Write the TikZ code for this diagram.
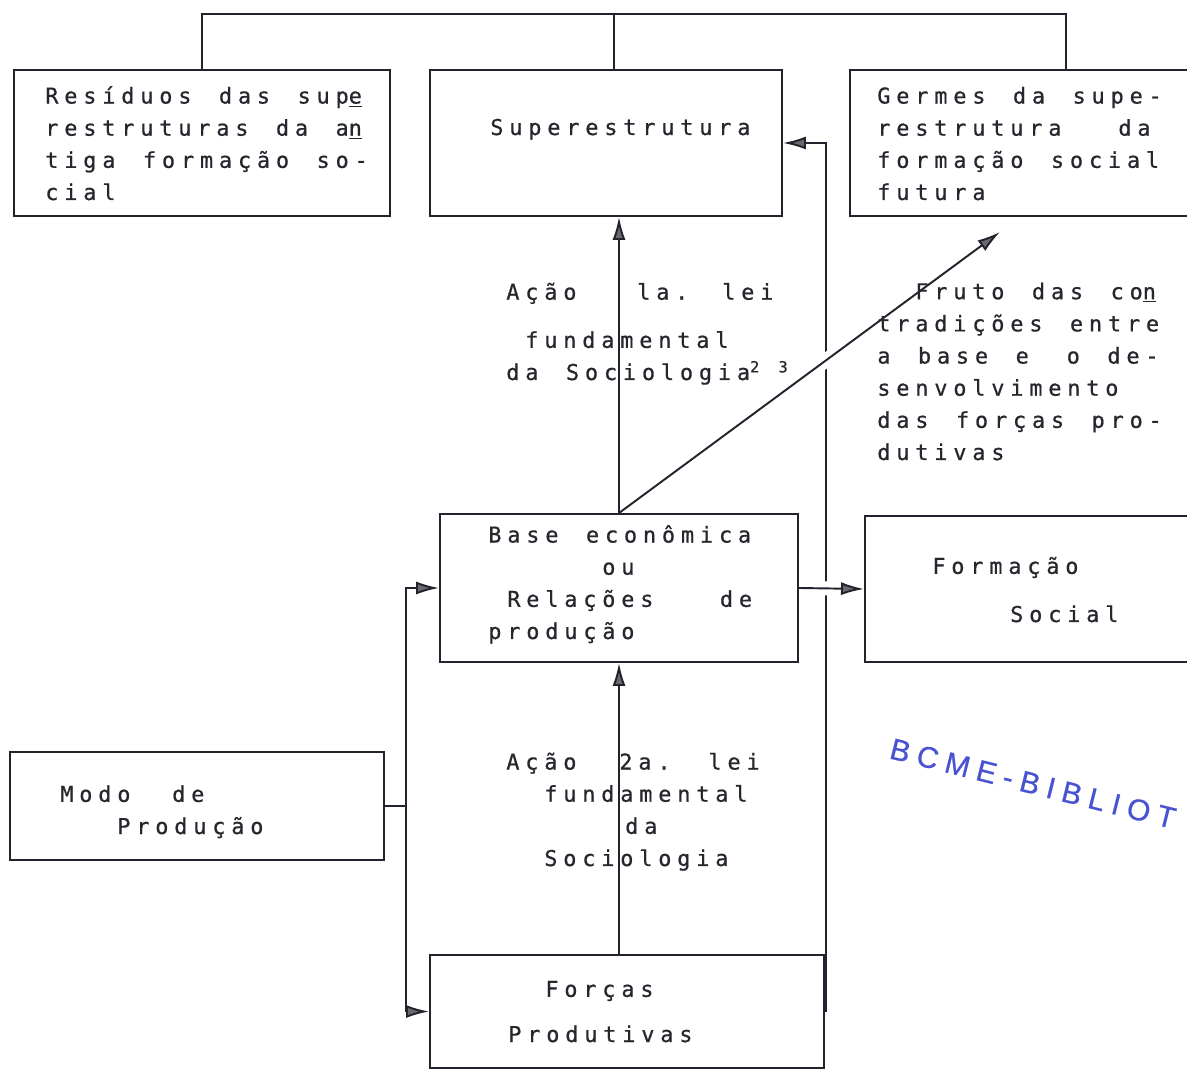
\documentclass[tikz,border=0pt]{standalone}
\usepackage{fontspec}
\usetikzlibrary{arrows.meta}
\usetikzlibrary{fit}
\newfontfamily\twfont[LetterSpace=27, WordSpace=1.45, FakeBold=0.7]{DejaVu Sans Mono}
\newfontfamily\stampfont[LetterSpace=25, FakeBold=0.6]{Liberation Sans}
\definecolor{inkc}{RGB}{35,35,45}
\definecolor{inkt}{RGB}{38,38,46}
\definecolor{tipc}{RGB}{105,105,112}
\definecolor{stampc}{RGB}{72,82,210}
\newlength\cw
\setlength\cw{0.38cm}
\newcommand\twtype{\twfont\fontsize{12.4}{18.3}\selectfont}

\begin{document}
\begin{tikzpicture}[x=0.02cm, y=-0.02cm,
    box/.style={draw=inkc, line width=1.1pt, inner sep=0pt},
    wire/.style={draw=inkc, line width=1.1pt},
    arr/.style={draw=inkc, line width=1.1pt, -{Latex[length=0.46cm, width=0.26cm, fill=tipc]}},
    hop/.style 2 args={preaction={-, draw=white, line width=8pt, shorten <=#1, shorten >=#2}},
    tw/.style={anchor=base west, align=left, inner sep=0pt, text=inkt, font=\twtype}]
    
    \useasboundingbox (0,0) rectangle (1187,1070);
    \clip (0,0) rectangle (1187,1070);
    \fill[white] (0,0) rectangle (1187,1070);
    
    \node[box, fit={(14,70) (390,216)}] (res) {};
    \node[box, fit={(430,70) (782,216)}] (sup) {};
    \node[box, fit={(850,70) (1282,216)}] (germ) {};
    \node[box, fit={(440,514) (798,662)}] (base) {};
    \node[box, fit={(865,516) (1300,662)}] (form) {};
    \node[box, fit={(10,752) (384,860)}] (modo) {};
    \node[box, fit={(430,955) (824,1068)}] (forc) {};
    
    \coordinate (bus) at (614,14);
    \coordinate (back) at (826,0);
    \coordinate (split) at (406,0);
    \coordinate (fut) at (1000,232);
    
    \draw[wire] (res.north) |- (bus) -| (germ.north);
    \draw[wire] (bus) -- (bus |- sup.north);
    \draw[arr] (base.north) -- (base.north |- sup.south);
    \draw[arr] (base.south |- forc.north) -- (base.south);
    \draw[arr] (forc.east) -| (back |- sup.east) -- (sup.east);
    \draw[arr, hop={4.6cm}{3.8cm}] (base.north) -- (fut);
    \draw[arr, hop={0.3cm}{0.6cm}] (base.east) -- (form.west);
    \draw[arr] (modo.east) -| (split |- base.west) -- (base.west);
    \draw[arr] (modo.east) -| (split |- forc.west) -- (forc.west);
    
    \node[tw] at (45,200) {Resíduos das sup\underline{e}\\restruturas da a\underline{n}\\tiga formação so-\\cial};
    \node[tw] at (490,135) {Superestrutura};
    \node[tw] at (877,200) {Germes da supe-\\restrutura\hspace*{3\cw}da\\formação social\\futura};
    \node[tw] at (506,380) {Ação\hspace*{3.2\cw}la. lei\\[0.32cm]\hspace*{1\cw}fundamental\\da Sociologia\textsuperscript{2 3}};
    \node[tw] at (877,460) {\hspace*{2\cw}Fruto das co\underline{n}\\tradições entre\\a base e\hspace*{2\cw}o de-\\senvolvimento\\das forças pro-\\dutivas};
    \node[tw] at (488,639) {Base econômica\\\hspace*{6\cw}ou\\\hspace*{1\cw}Relações\hspace*{3.5\cw}de\\produção};
    \node[tw] at (932,622) {Formação\\[0.32cm]\hspace*{4.1\cw}Social};
    \node[tw] at (60,834) {Modo\hspace*{2.2\cw}de\\\hspace*{3\cw}Produção};
    \node[tw] at (506,866) {Ação\hspace*{2.26\cw}2a.\hspace*{2\cw}lei\\\hspace*{2\cw}fundamental\\\hspace*{6.26\cw}da\\\hspace*{2\cw}Sociologia};
    \node[tw] at (508,1042) {\hspace*{1.95\cw}Forças\\[0.26cm]Produtivas};
    
    \node[anchor=base west, rotate=-14, inner sep=0pt, text=stampc, font=\stampfont\fontsize{17}{20}\selectfont] (stamp) at (888,758) {BCME-BIBLIOT};
\end{tikzpicture}
\end{document}
